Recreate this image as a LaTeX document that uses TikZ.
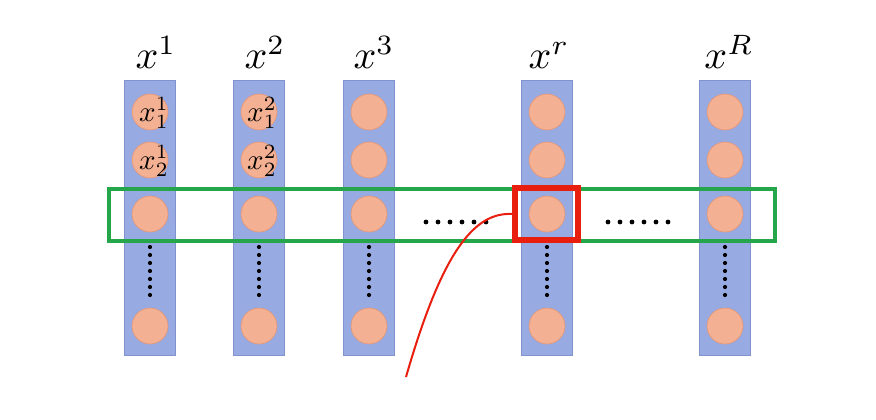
\documentclass[tikz,border=0pt]{standalone}
\usepackage{graphicx}
\usepackage{amsmath}
\begin{document}
\begin{tikzpicture}[x=1pt,y=-1pt,
  colbox/.style={draw=colB, fill=colF, line width=0.8pt, minimum width=51pt, minimum height=275pt, inner sep=0pt},
  ball/.style={circle, draw=ballB, fill=ballF, line width=0.6pt, minimum size=36pt, inner sep=0pt},
  blab/.style={inner sep=0pt},
  lab/.style={inner sep=0pt},
]
\definecolor{colF}{RGB}{152,170,226}
\definecolor{colB}{RGB}{128,146,208}
\definecolor{ballF}{RGB}{244,176,146}
\definecolor{ballB}{RGB}{228,150,118}
\definecolor{grn}{RGB}{38,166,74}
\definecolor{rd}{RGB}{232,30,14}
\useasboundingbox (0,0) rectangle (876,420);
\fill[white] (0,0) rectangle (876,420);
% columns
\foreach \n/\x in {a/150,b/259,c/369,r/547,R/725}{
  \node[colbox] (col\n) at (\x,217.5) {};
  \node[ball] (\n1) at (\x,112) {};
  \node[ball] (\n2) at (\x,160) {};
  \node[ball] (\n3) at (\x,214) {};
  \node[ball] (\n4) at (\x,326) {};
  \foreach \k in {0,...,6}{
    \fill (\x,{247+\k*8}) circle (2.1);
  }
}
\node[blab] (ta1) at (154,113) {\scalebox{2.9}{$x_1^1$}};
\node[blab] (ta2) at (154,161) {\scalebox{2.9}{$x_2^1$}};
\node[blab] (tb1) at (262,113) {\scalebox{2.9}{$x_1^2$}};
\node[blab] (tb2) at (262,161) {\scalebox{2.9}{$x_2^2$}};
% labels
\node[lab, anchor=base] (la) at (156,69) {\scalebox{4}{$x^1$}};
\node[lab, anchor=base] (lb) at (265,69) {\scalebox{4}{$x^2$}};
\node[lab, anchor=base] (lc) at (374,69) {\scalebox{4}{$x^3$}};
\node[lab, anchor=base] (lr) at (549,69) {\scalebox{4}{$x^r$}};
\node[lab, anchor=base] (lR) at (729,69) {\scalebox{4}{$x^R$}};
% horizontal dots
\foreach \k in {0,...,5}{
  \fill ({426+\k*12},222) circle (2.4);
  \fill ({608+\k*12},222) circle (2.4);
}
% green box
\node[draw=grn, line width=4pt, minimum width=666pt, minimum height=52pt, inner sep=0pt] (row) at (441.5,215) {};
% red box
\node[draw=rd, line width=6pt, minimum width=63pt, minimum height=52pt, inner sep=0pt] (sel) at (546.5,214) {};
\coordinate (cs) at (406,377);
\draw[rd, line width=2pt] (cs) .. controls (442,252) and (474,212) .. (sel.west);
\end{tikzpicture}
\end{document}
